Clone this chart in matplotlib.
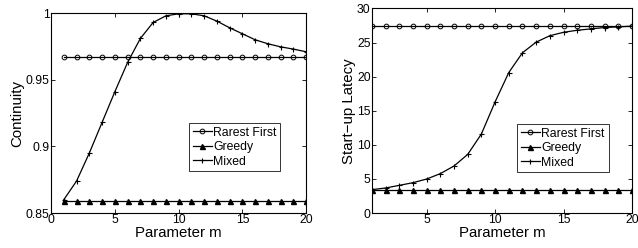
import numpy as np
import matplotlib.pyplot as plt

plt.rcParams['font.family'] = ['Liberation Sans', 'DejaVu Sans']

m = np.arange(1, 21)

# continuity
cont_rarest = [0.967] * 20
cont_greedy = [0.859] * 20
cont_mixed = [0.860, 0.874, 0.895, 0.918, 0.941, 0.963, 0.981, 0.993, 0.998, 0.9995,
              0.9995, 0.998, 0.994, 0.989, 0.9845, 0.980, 0.977, 0.9747, 0.973, 0.971]

# start-up latency
lat_rarest = [27.45] * 20
lat_greedy = [3.43] * 20
lat_mixed = [3.43, 3.67, 4.06, 4.45, 4.99, 5.78, 6.9, 8.6, 11.6, 16.3,
             20.6, 23.5, 25.06, 26.0, 26.5, 26.8, 27.0, 27.2, 27.3, 27.4]

fig = plt.figure(figsize=(6.38, 2.48), dpi=100)
ax1 = fig.add_axes([0.08, 0.141, 0.40, 0.806])
ax2 = fig.add_axes([0.583, 0.141, 0.4075, 0.825])

def draw(ax, r, g, x, ylabel):
    ax.plot(m, r, 'k-', marker='o', ms=3.4, mfc='none', mew=0.7, lw=0.9, label='Rarest First')
    ax.plot(m, g, 'k-', marker='^', ms=3.6, lw=0.9, label='Greedy')
    ax.plot(m, x, 'k-', marker='+', ms=3.6, mew=0.8, lw=0.9, label='Mixed')
    ax.tick_params(direction='in', top=True, right=True, labelsize=8.8, length=3, width=0.6, pad=1)
    for s in ax.spines.values():
        s.set_linewidth(0.8)
    ax.set_xlabel('Parameter m', fontsize=10.8, labelpad=0)
    ax.set_ylabel(ylabel, fontsize=10.8, labelpad=1)

def legend(ax, anchor):
    leg = ax.legend(loc='upper left', bbox_to_anchor=anchor, fontsize=8.8, frameon=True,
                    fancybox=False, edgecolor='k', handlelength=1.6, handletextpad=0.1,
                    borderpad=0.3, labelspacing=0.2, borderaxespad=0)
    leg.get_frame().set_linewidth(0.7)

draw(ax1, cont_rarest, cont_greedy, cont_mixed, 'Continuity')
ax1.set_xlim(0, 20)
ax1.set_ylim(0.85, 1)
ax1.set_xticks([0, 5, 10, 15, 20])
ax1.set_yticks([0.85, 0.9, 0.95, 1])
ax1.set_yticklabels(['0.85', '0.9', '0.95', '1'])
legend(ax1, (0.54, 0.45))

draw(ax2, lat_rarest, lat_greedy, lat_mixed, 'Start\u2212up Latecy')
ax2.set_xlim(1, 20)
ax2.set_ylim(0, 30)
ax2.set_xticks([5, 10, 15, 20])
ax2.set_yticks([0, 5, 10, 15, 20, 25, 30])
legend(ax2, (0.558, 0.435))

fig.savefig('out.png', dpi=100)
